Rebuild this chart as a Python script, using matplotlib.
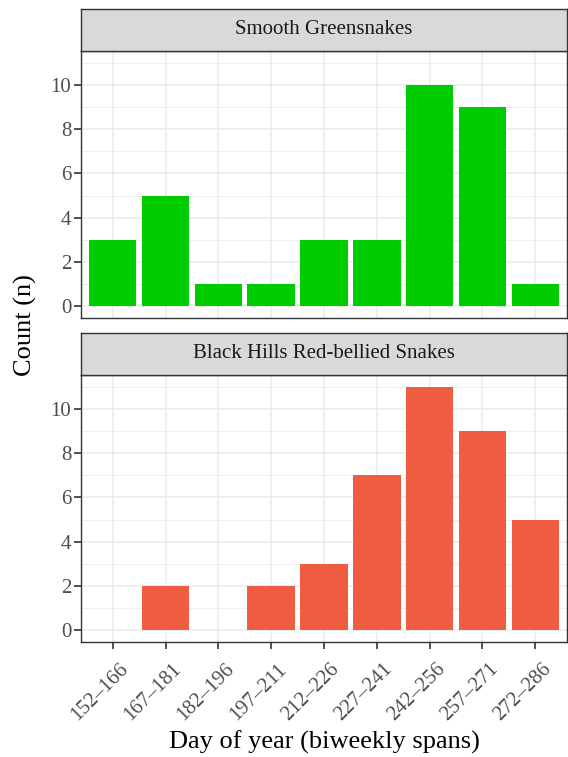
import numpy as np
import matplotlib.pyplot as plt
import matplotlib.transforms as mtransforms

plt.rcParams['font.family'] = ['Liberation Serif', 'DejaVu Serif']

spans = ['152–166', '167–181', '182–196', '197–211', '212–226',
         '227–241', '242–256', '257–271', '272–286']
green_counts = [3, 5, 1, 1, 3, 3, 10, 9, 1]
red_counts = [0, 2, 0, 2, 3, 7, 11, 9, 5]
titles = ['Smooth Greensnakes', 'Black Hills Red-bellied Snakes']
colors = ['#00CD00', '#EE5C42']

W, H = 568, 757
fig = plt.figure(figsize=(W / 100, H / 100), dpi=100)

left, right = 81, 567
panels = [(9, 51, 318), (333, 375, 642)]  # strip top, panel top, panel bottom

x = np.arange(len(spans))
for i, (counts, title, col) in enumerate(zip([green_counts, red_counts], titles, colors)):
  st, pt, pb = panels[i]
  ax = fig.add_axes([left / W, 1 - pb / H, (right - left) / W, (pb - pt) / H])
  ax.set_axisbelow(True)
  ax.bar(x, counts, width=0.9, color=col, zorder=2)
  ax.set_xlim(-0.6, len(spans) - 0.4)
  ax.set_ylim(-0.55, 11.55)
  ax.set_yticks([0, 2, 4, 6, 8, 10])
  ax.set_yticks([1, 3, 5, 7, 9, 11], minor=True)
  ax.set_xticks(x)
  ax.grid(True, which='major', color='#EBEBEB', lw=1.1)
  ax.grid(True, which='minor', axis='y', color='#EBEBEB', lw=0.6)
  ax.tick_params(which='minor', length=0)
  ax.tick_params(which='major', length=5, width=1.2, color='#333333',
                 labelsize=15, labelcolor='#4D4D4D', pad=2)
  for s in ax.spines.values():
    s.set_color('#333333')
    s.set_linewidth(1)
  if i == 0:
    ax.tick_params(axis='x', length=0, labelbottom=False)
  else:
    ax.set_xticklabels(spans, rotation=45, ha='right', rotation_mode='anchor')
    off = mtransforms.ScaledTranslation(6 / 100, -8 / 100, fig.dpi_scale_trans)
    for lab in ax.get_xticklabels():
      lab.set_transform(lab.get_transform() + off)
  # strip
  sax = fig.add_axes([left / W, 1 - pt / H, (right - left) / W, (pt - st) / H])
  sax.set_facecolor('#D9D9D9')
  sax.set_xticks([]); sax.set_yticks([])
  for s in sax.spines.values():
    s.set_color('#333333')
    s.set_linewidth(1)
  sax.text(0.5, 0.5, title, ha='center', va='center', fontsize=15,
           color='#1A1A1A', transform=sax.transAxes)

fig.text(25 / W, 1 - 325 / H, 'Count (n)', rotation=90, ha='center', va='center',
         fontsize=19)
fig.text((left + right) / 2 / W, 1 - 742 / H, 'Day of year (biweekly spans)',
         ha='center', va='center', fontsize=19)

fig.savefig('out.png', dpi=100)
